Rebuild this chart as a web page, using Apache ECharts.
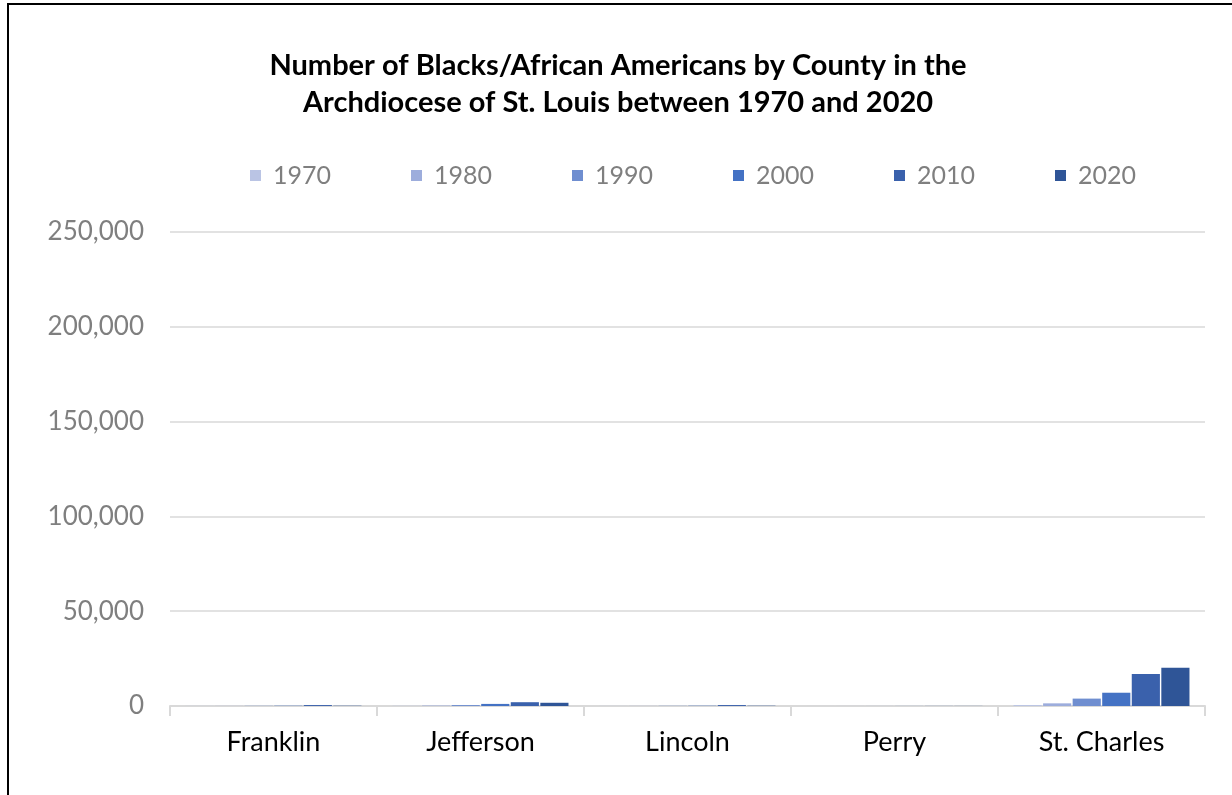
<!DOCTYPE html>
<html>
<head>
<meta charset="utf-8">
<script src="https://cdn.jsdelivr.net/npm/echarts@6/dist/echarts.min.js"></script>
<style>
  body { margin: 0; background: #fff; }
  #frame { position: absolute; left: 7px; top: 3px; width: 1230px; height: 800px; border: 2px solid #000; box-sizing: border-box; }
  #main { position: absolute; left: 0; top: 0; width: 1232px; height: 795px; }
</style>
</head>
<body>
<div id="frame"></div>
<div id="main"></div>
<script>
// counties on the x axis
const counties = ['Franklin', 'Jefferson', 'Lincoln', 'Perry', 'St. Charles'];
const years = ['1970', '1980', '1990', '2000', '2010', '2020'];

// black / african american population, one array per census year
const y1970 = [50, 100, 50, 20, 500];
const y1980 = [50, 250, 50, 20, 1400];
const y1990 = [100, 500, 100, 20, 3900];
const y2000 = [150, 1100, 150, 30, 7000];
const y2010 = [500, 2000, 500, 50, 16900];
const y2020 = [150, 1700, 150, 50, 20200];

const yTicks = [0, 50000, 100000, 150000, 200000, 250000];
const colors = ['#BAC4E4', '#9DADDC', '#6F8ED0', '#4472C4', '#3A61AC', '#2F5597'];

const seriesData = [y1970, y1980, y1990, y2000, y2010, y2020];
const font = 'Lato, "Open Sans", sans-serif';

const chart = echarts.init(document.getElementById('main'));
const option = {
  animation: false,
  color: colors,
  title: {
    text: 'Number of Blacks/African Americans by County in the\nArchdiocese of St. Louis between 1970 and 2020',
    left: 613,
    textAlign: 'center',
    top: 42,
    textStyle: { fontFamily: font, fontSize: 29, fontWeight: 'bold', color: '#000', lineHeight: 37 }
  },
  legend: {
    data: years,
    left: 245,
    top: 158,
    itemWidth: 11,
    itemHeight: 11,
    itemGap: 80,
    icon: 'rect',
    textStyle: { fontFamily: font, fontSize: 25, color: '#7F7F7F', padding: [0, 0, 0, 7] }
  },
  grid: { left: 170, right: 27, top: 232, bottom: 89, containLabel: false },
  xAxis: {
    type: 'category',
    data: counties,
    axisLine: { lineStyle: { color: '#D9D9D9', width: 2 } },
    axisTick: { show: true, length: 10, lineStyle: { color: '#D9D9D9', width: 2 } },
    axisLabel: { fontFamily: font, fontSize: 27, color: '#000', margin: 23 }
  },
  yAxis: {
    type: 'value',
    min: yTicks[0],
    max: yTicks[yTicks.length - 1],
    interval: 50000,
    axisLine: { show: false },
    axisTick: { show: false },
    splitLine: { lineStyle: { color: '#D9D9D9', width: 1.5 } },
    axisLabel: {
      fontFamily: font, fontSize: 26, color: '#7F7F7F', margin: 26,
      formatter: v => v.toLocaleString('en-US')
    }
  },
  series: years.map((y, i) => ({
    name: y,
    type: 'bar',
    data: seriesData[i],
    barGap: '5%',
    barCategoryGap: '15%'
  }))
};
chart.setOption(option);
</script>
</body>
</html>
